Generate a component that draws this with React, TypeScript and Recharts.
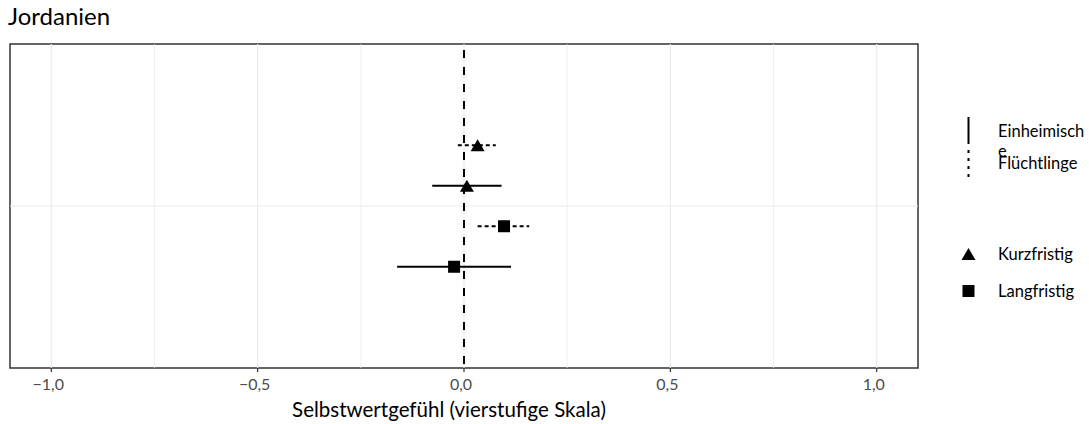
import {
  ComposedChart,
  Scatter,
  XAxis,
  YAxis,
  ReferenceLine,
  ReferenceArea,
} from "recharts";

const country = "Jordanien";
const groups = ["Einheimische", "Flüchtlinge"];
const horizons = ["Kurzfristig", "Langfristig"];

// estimate / lower / upper per horizon, order follows `groups`
const kurzEstimate = [0.007, 0.033];
const kurzLower = [-0.077, -0.015];
const kurzUpper = [0.091, 0.077];
const langEstimate = [-0.024, 0.097];
const langLower = [-0.162, 0.033];
const langUpper = [0.114, 0.158];

const xTicks = [-1, -0.5, 0, 0.5, 1];
const xMinor = [-0.75, -0.25, 0.25, 0.75];
const xDomain = [-1.1, 1.1];

const W = 1089;
const H = 424;
const FONT = "Lato, 'Open Sans', sans-serif";

// dodge: horizon above/below the country row, groups stacked inside
const rowY = (h: number, g: number) => 4 + (h === 0 ? 1 : -1) + (g === 0 ? -0.5 : 0.5);

const series = [
  { name: horizons[0], est: kurzEstimate, lo: kurzLower, hi: kurzUpper },
  { name: horizons[1], est: langEstimate, lo: langLower, hi: langUpper },
].map((s, h) => ({
  ...s,
  points: groups.map((g, gi) => ({
    group: g,
    x: s.est[gi],
    y: rowY(h, gi),
    lo: s.lo[gi],
    hi: s.hi[gi],
  })),
}));

const dashFor = (g: number) => (g === 0 ? undefined : "4 3");

const fmt = (v: number) => {
  const s = Math.abs(v).toFixed(1).replace(".", ",");
  return v < 0 ? "\u2212" + s : s;
};

function Triangle(props: any) {
  const { cx, cy } = props;
  const w = 14;
  const h = 12;
  return (
    <polygon
      points={`${cx - w / 2},${cy + h / 2} ${cx + w / 2},${cy + h / 2} ${cx},${cy - h / 2}`}
      fill="#000"
    />
  );
}

function Square(props: any) {
  const { cx, cy } = props;
  const s = 12;
  return <rect x={cx - s / 2} y={cy - s / 2} width={s} height={s} fill="#000" />;
}

function LegendBox() {
  const fs = 16.5;
  return (
    <svg
      width={140}
      height={220}
      style={{ position: "absolute", left: 950, top: 100, overflow: "visible" }}
    >
      <line x1={18.5} x2={18.5} y1={17} y2={44} stroke="#000" strokeWidth={2} />
      <line x1={18.5} x2={18.5} y1={50} y2={80} stroke="#000" strokeWidth={2} strokeDasharray="3 5" />
      <text x={48} y={37} fontSize={fs} fill="#000">
        Einheimisch
      </text>
      <text x={48} y={57} fontSize={fs} fill="#000">
        e
      </text>
      <text x={48} y={69} fontSize={fs} fill="#000">
        {groups[1]}
      </text>
      <Triangle cx={18.5} cy={154} />
      <text x={48} y={160} fontSize={fs} fill="#000">
        {horizons[0]}
      </text>
      <Square cx={18.5} cy={191} />
      <text x={48} y={197} fontSize={fs} fill="#000">
        {horizons[1]}
      </text>
    </svg>
  );
}

export default function App() {
  return (
    <div
      style={{
        position: "absolute",
        left: 0,
        top: 0,
        width: W,
        height: H,
        background: "#fff",
        fontFamily: FONT,
      }}
    >
      <div style={{ position: "absolute", left: 8, top: 1, fontSize: 24, color: "#000" }}>
        {country}
      </div>
      <ComposedChart width={W} height={H} margin={{ top: 44, right: 171, left: 10, bottom: 0 }}>
        <XAxis
          type="number"
          dataKey="x"
          domain={xDomain}
          ticks={xTicks}
          allowDataOverflow
          tickFormatter={fmt}
          axisLine={false}
          tickLine={{ stroke: "#333", strokeWidth: 1.2 }}
          tickSize={4}
          tickMargin={7}
          tick={{ fill: "#4d4d4d", fontSize: 16, dx: -3 }}
          height={56}
          label={{
            value: "Selbstwertgefühl (vierstufige Skala)",
            position: "insideBottom",
            offset: 7,
            dx: -15,
            fill: "#000",
            fontSize: 20.5,
          }}
        />
        <YAxis type="number" dataKey="y" domain={[0, 8]} hide />
        {xMinor.map((v) => (
          <ReferenceLine key={`mi${v}`} x={v} stroke="#ebebeb" strokeWidth={0.7} />
        ))}
        {xTicks.map((v) => (
          <ReferenceLine key={`ma${v}`} x={v} stroke="#ebebeb" strokeWidth={1.2} />
        ))}
        <ReferenceLine y={4} stroke="#ebebeb" strokeWidth={1.2} />
        <ReferenceLine x={0} stroke="#000" strokeWidth={2} strokeDasharray="8 9" strokeDashoffset={-4} />
        {series.flatMap((s) =>
          s.points.map((p, gi) => (
            <ReferenceLine
              key={`${s.name}-${p.group}`}
              segment={[
                { x: p.lo, y: p.y },
                { x: p.hi, y: p.y },
              ]}
              stroke="#000"
              strokeWidth={1.8}
              strokeDasharray={dashFor(gi)}
            />
          ))
        )}
        <Scatter
          name={horizons[0]}
          data={series[0].points}
          shape={Triangle}
          isAnimationActive={false}
        />
        <Scatter
          name={horizons[1]}
          data={series[1].points}
          shape={Square}
          isAnimationActive={false}
        />
        <ReferenceArea
          x1={xDomain[0]}
          x2={xDomain[1]}
          y1={0}
          y2={8}
          fill="none"
          fillOpacity={0}
          stroke="#333"
          strokeWidth={1.5}
        />
      </ComposedChart>
      <LegendBox />
    </div>
  );
}
